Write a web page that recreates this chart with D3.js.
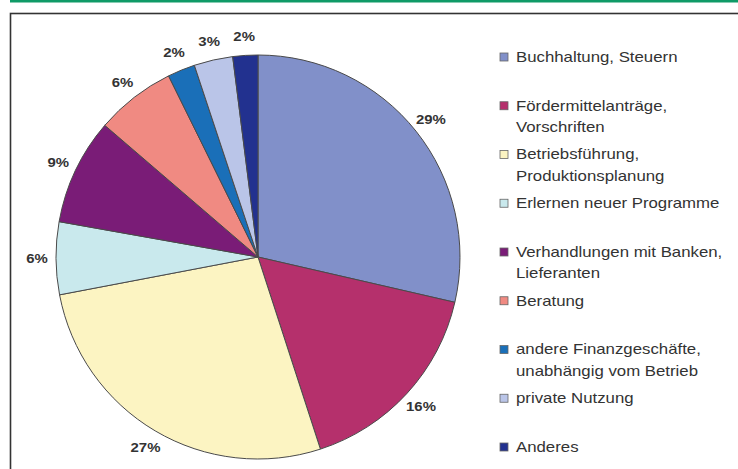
<!DOCTYPE html>
<html>
<head>
<meta charset="utf-8">
<script src="https://cdn.jsdelivr.net/npm/d3@7/dist/d3.min.js"></script>
<style>
    body { margin: 0; background: #ffffff; }
    svg { display: block; }
</style>
</head>
<body>
<div id="chart"></div>
<script>
// categories, values (percent) and slice colours
const categories = [
    ["Buchhaltung, Steuern"],
    ["Fördermittelanträge,", "Vorschriften"],
    ["Betriebsführung,", "Produktionsplanung"],
    ["Erlernen neuer Programme"],
    ["Verhandlungen mit Banken,", "Lieferanten"],
    ["Beratung"],
    ["andere Finanzgeschäfte,", "unabhängig vom Betrieb"],
    ["private Nutzung"],
    ["Anderes"]
];
const values = [28.6, 16.4, 27.0, 5.8, 8.5, 6.4, 2.2, 3.1, 2.0];
const colors = ["#8190c9", "#b5306c", "#fcf4c2", "#c9e9ed", "#7a1c77", "#f08a82", "#1a6fb8", "#bac5e8", "#22318f"];

const width = 738,
    height = 469,
    cx = 258,
    cy = 257,
    radius = 202,
    labelRadius = 221;

const svg = d3.select("#chart").append("svg")
    .attr("width", width)
    .attr("height", height);

// green rule at the top and the frame of the chart
svg.append("rect")
    .attr("x", 10).attr("y", 0)
    .attr("width", width - 10).attr("height", 2.5)
    .attr("fill", "#0f9a67");

svg.append("rect")
    .attr("x", 10.5).attr("y", 13.5)
    .attr("width", width + 20).attr("height", height + 20)
    .attr("fill", "#ffffff")
    .attr("stroke", "#333333")
    .attr("stroke-width", 1.6);

const data = values.map((v, i) => ({ name: categories[i], value: v, color: colors[i] }));

const pie = d3.pie().sort(null).value(d => d.value);
const arcs = pie(data);

const arc = d3.arc().innerRadius(0).outerRadius(radius);
const labelArc = d3.arc().innerRadius(labelRadius).outerRadius(labelRadius);

const pieG = svg.append("g")
    .attr("transform", "translate(" + cx + "," + cy + ")");

pieG.selectAll("path.slice")
    .data(arcs)
    .join("path")
    .attr("class", "slice")
    .attr("d", arc)
    .attr("fill", d => d.data.color)
    .attr("stroke", "#4a4a4a")
    .attr("stroke-width", 1);

// percent labels outside the pie (the source font is drawn a little wide)
pieG.selectAll("text.pct")
    .data(arcs)
    .join("text")
    .attr("class", "pct")
    .attr("transform", d => "translate(" + labelArc.centroid(d) + ") scale(1.15,1)")
    .attr("text-anchor", "middle")
    .attr("dominant-baseline", "central")
    .style("font-family", "'Liberation Sans', Arial, sans-serif")
    .style("font-weight", "bold")
    .style("font-size", "13px")
    .style("fill", "#333333")
    .text(d => Math.round(d.data.value) + "%");

// legend
const legendY = d3.scalePoint()
    .domain(d3.range(data.length))
    .range([57, 447]);

const legend = svg.append("g").attr("class", "legend");

const items = legend.selectAll("g.item")
    .data(data)
    .join("g")
    .attr("class", "item")
    .attr("transform", (d, i) => "translate(500," + legendY(i) + ")");

items.append("rect")
    .attr("x", 0).attr("y", -4)
    .attr("width", 8).attr("height", 8)
    .attr("fill", d => d.color)
    .attr("stroke", "#666666")
    .attr("stroke-width", 0.8);

items.append("text")
    .attr("transform", "translate(16,0) scale(1.2,1)")
    .style("font-family", "'Liberation Sans', Arial, sans-serif")
    .style("font-size", "14px")
    .style("fill", "#333333")
    .selectAll("tspan")
    .data(d => d.name)
    .join("tspan")
    .attr("x", 0)
    .attr("y", (d, i) => i * 21.5)
    .attr("dominant-baseline", "central")
    .text(d => d);
</script>
</body>
</html>
